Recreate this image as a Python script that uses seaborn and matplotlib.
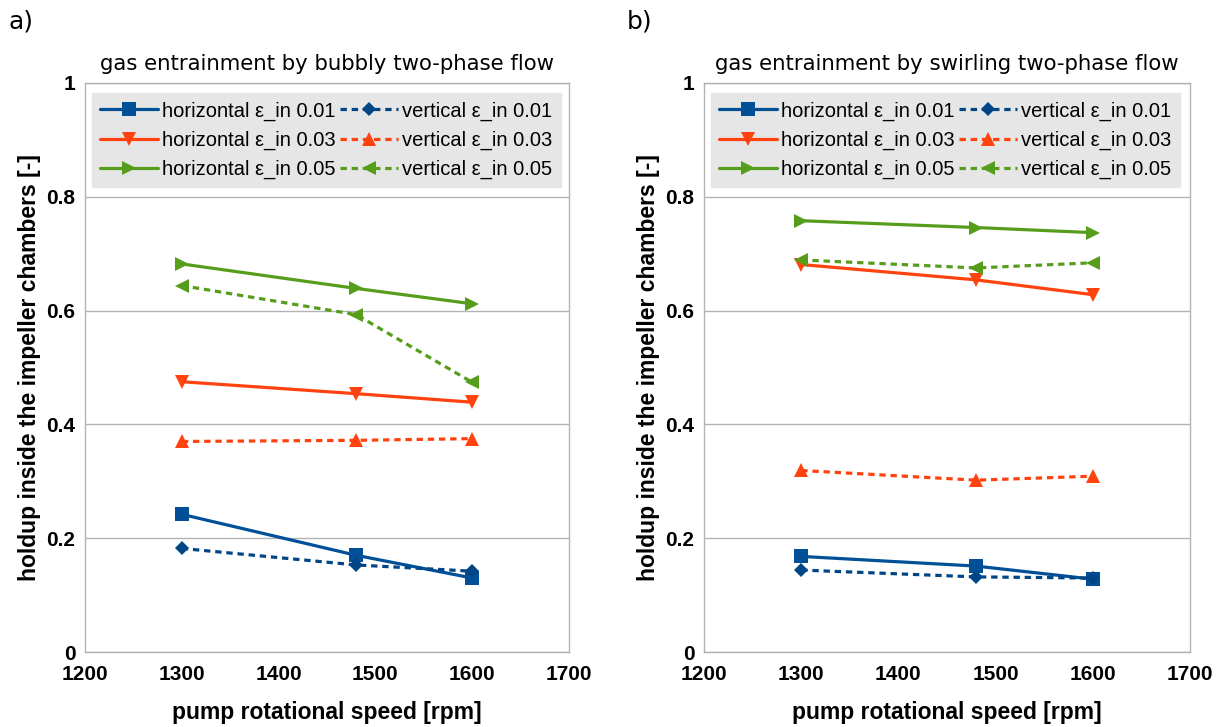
import matplotlib
matplotlib.use("Agg")
import matplotlib.pyplot as plt
import seaborn as sns
import pandas as pd
from matplotlib.ticker import FuncFormatter

speed = [1300, 1480, 1600]

# panel a: bubbly
a_h001 = [0.242, 0.170, 0.130]
a_v001 = [0.182, 0.153, 0.142]
a_h003 = [0.475, 0.454, 0.439]
a_v003 = [0.370, 0.372, 0.375]
a_h005 = [0.682, 0.639, 0.612]
a_v005 = [0.644, 0.593, 0.474]

# panel b: swirling
b_h001 = [0.168, 0.151, 0.128]
b_v001 = [0.144, 0.132, 0.130]
b_h003 = [0.681, 0.654, 0.628]
b_v003 = [0.319, 0.302, 0.309]
b_h005 = [0.758, 0.746, 0.737]
b_v005 = [0.689, 0.675, 0.684]

labels = ["horizontal ε_in 0.01", "horizontal ε_in 0.03", "horizontal ε_in 0.05",
          "vertical ε_in 0.01", "vertical ε_in 0.03", "vertical ε_in 0.05"]
titles = ["gas entrainment by bubbly two-phase flow",
          "gas entrainment by swirling two-phase flow"]
panel_tags = ["a)", "b)"]
xticks = [1200, 1300, 1400, 1500, 1600, 1700]
yticks = [0, 0.2, 0.4, 0.6, 0.8, 1]

blue = "#004f97"
orange = "#ff420e"
green = "#579d1c"
styles = [
    dict(color=blue, marker="s", ls="-", ms=10),
    dict(color=orange, marker="v", ls="-", ms=10),
    dict(color=green, marker=">", ls="-", ms=10),
    dict(color="#004586", marker="D", ls=(0, (2, 1.5)), ms=7),
    dict(color=orange, marker="^", ls=(0, (2, 1.5)), ms=10),
    dict(color=green, marker="<", ls=(0, (2, 1.5)), ms=10),
]

panels = [
    [a_h001, a_h003, a_h005, a_v001, a_v003, a_v005],
    [b_h001, b_h003, b_h005, b_v001, b_v003, b_v005],
]

sns.set_style("white")
plt.rcParams["font.family"] = ["Liberation Sans", "DejaVu Sans"]
plt.rcParams["text.color"] = "black"
plt.rcParams["axes.labelcolor"] = "black"
plt.rcParams["xtick.color"] = "black"
plt.rcParams["ytick.color"] = "black"

W, H = 1228, 727
fig = plt.figure(figsize=(W / 100, H / 100), dpi=100)
axes_px = [(85, 83, 569, 652), (704, 83, 1190, 652)]
tag_px = [(8, 22), (627, 22)]
ylabel_x_px = [30, 648]
xlabel_y_px = 713

for i, (series, (l, t, r, b)) in enumerate(zip(panels, axes_px)):
    ax = fig.add_axes([l / W, 1 - b / H, (r - l) / W, (b - t) / H])
    for vals, lab, st in zip(series, labels, styles):
        df = pd.DataFrame({"speed": speed, "holdup": vals})
        sns.lineplot(data=df, x="speed", y="holdup", ax=ax, color=st["color"],
                     marker=st["marker"], markersize=st["ms"], linestyle=st["ls"],
                     linewidth=2.3, markeredgewidth=0, label=lab)
    ax.set_xlim(1200, 1700)
    ax.set_ylim(0, 1)
    ax.set_xticks(xticks)
    ax.set_yticks(yticks)
    ax.yaxis.set_major_formatter(FuncFormatter(lambda v, p: f"{v:g}"))
    ax.grid(axis="y", color="#b3b3b3", lw=1)
    ax.grid(axis="x", visible=False)
    for s in ax.spines.values():
        s.set_color("#b3b3b3")
        s.set_linewidth(1)
    ax.tick_params(axis="both", which="both", length=5, width=1, color="#b3b3b3",
                   labelcolor="black", direction="out", labelsize=15)
    ax.tick_params(axis="x", pad=4)
    ax.tick_params(axis="y", pad=2)
    for lbl in ax.get_xticklabels() + ax.get_yticklabels():
        lbl.set_fontweight("bold")
    ax.set_xlabel("pump rotational speed [rpm]", fontsize=16.5, fontweight="bold")
    ax.set_ylabel("holdup inside the impeller chambers [-]", fontsize=16.5, fontweight="bold")
    ax.xaxis.label.set_va("center")
    ax.yaxis.label.set_va("center")
    ax.xaxis.set_label_coords(0.5, (b - xlabel_y_px) / (b - t))
    ax.yaxis.set_label_coords((ylabel_x_px[i] - l) / (r - l), 0.5)
    ax.set_title(titles[i], fontsize=15.3, family="DejaVu Sans", pad=9)
    leg = ax.legend(ncol=2, loc="upper left", bbox_to_anchor=(0.014, 0.982),
                    frameon=True, fancybox=False, framealpha=1, facecolor="#e6e6e6",
                    edgecolor="#e6e6e6", fontsize=14.5, handlelength=2.9,
                    handletextpad=0.2, columnspacing=0.2, labelspacing=0.5,
                    borderpad=0.4, borderaxespad=0)
    fig.text(tag_px[i][0] / W, 1 - tag_px[i][1] / H, panel_tags[i], fontsize=18,
             family="DejaVu Sans", ha="left", va="center")

fig.savefig("out.png", dpi=100)
